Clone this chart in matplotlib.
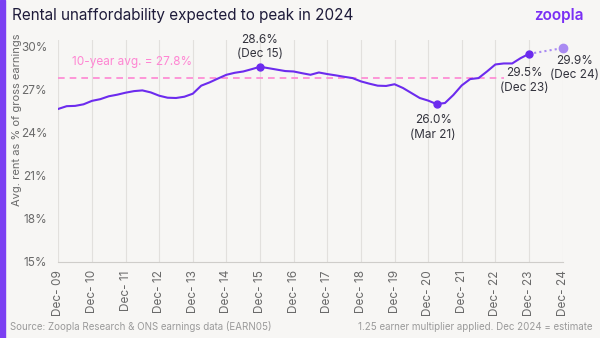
import matplotlib.pyplot as plt
import numpy as np

# Quarterly rent-to-earnings ratio, Dec 09 .. Dec 23 (%)
ratio = [25.66, 25.85, 25.87, 25.98, 26.22, 26.34, 26.54, 26.65, 26.79,
         26.90, 26.95, 26.81, 26.58, 26.44, 26.42, 26.51, 26.72,
         27.28, 27.51, 27.78, 28.04, 28.18, 28.27, 28.43, 28.60,
         28.50, 28.40, 28.30, 28.27, 28.15, 28.04, 28.20, 28.09,
         28.00, 27.90, 27.81, 27.58, 27.42, 27.28, 27.26, 27.38,
         27.12, 26.77, 26.42, 26.24, 26.00, 26.07, 26.63, 27.30,
         27.74, 27.81, 28.27, 28.76, 28.83, 28.83, 29.20, 29.50]
estimate_2024 = 29.9
avg_10y = 27.8
years = ['09', '10', '11', '12', '13', '14', '15', '16', '17', '18',
         '19', '20', '21', '22', '23', '24']
tick_labels = ['Dec- ' + y for y in years]

# highlighted points: (quarter index, label)
highlights = [(24, '28.6%\n(Dec 15)'), (45, '26.0%\n(Mar 21)'),
              (56, '29.5%\n(Dec 23)')]

purple = '#6c2bee'
light_purple = '#a98af2'
pink = '#ff86d3'
dark = '#33333d'
grey = '#6a6a6a'
bg = '#f7f6f4'

plt.rcParams['font.family'] = ['Inter', 'DejaVu Sans']

fig = plt.figure(figsize=(6, 3.38), dpi=100, facecolor=bg)
ax = fig.add_axes([0.0972, 0.2257, 0.8405, 0.6574], facecolor=bg)

x = np.arange(len(ratio)) * 0.25
x_est = 15.0

ax.plot(x, ratio, color=purple, lw=1.5, zorder=3)
ax.plot([x[-1], x_est], [ratio[-1], estimate_2024], color=light_purple,
        lw=1.5, ls=(0, (1, 1.5)), zorder=3)
ax.plot(x_est, estimate_2024, 'o', color=light_purple, ms=6, zorder=4,
        clip_on=False)

ax.plot([0, 13.25], [avg_10y, avg_10y], color=pink, lw=1.2,
        ls=(0, (4, 3)), zorder=2)
ax.text(0.4, 28.9, '10-year avg. = 27.8%', color=pink, fontsize=8.5,
        va='center', ha='left')

for i, label in highlights:
    ax.plot(x[i], ratio[i], 'o', color=purple, ms=5, zorder=4)

ax.text(x[24], ratio[24] + 0.45, highlights[0][1], ha='center', va='bottom',
        fontsize=8.5, color=dark, linespacing=1.3)
ax.text(x[45] - 0.1, ratio[45] - 0.7, highlights[1][1], ha='center',
        va='top', fontsize=8.5, color=dark, linespacing=1.3)
ax.text(x[56] - 0.15, ratio[56] - 0.95, highlights[2][1], ha='center',
        va='top', fontsize=8.5, color=dark, linespacing=1.3)
ax.text(x_est + 0.35, estimate_2024 - 0.45, '29.9%\n(Dec 24)', ha='center',
        va='top', fontsize=8.5, color=dark, linespacing=1.3)

ax.set_xlim(0, 15)
ax.set_ylim(15, 30.5)
ax.set_xticks(np.arange(16))
ax.set_xticklabels(tick_labels, rotation=90, fontsize=8.5, color=grey)
ax.set_yticks(np.arange(15, 31, 3))
ax.set_yticklabels([f'{v}%' for v in range(15, 31, 3)], fontsize=8.5,
                   color=grey)
ax.tick_params(axis='both', length=0)
ax.tick_params(axis='y', pad=8)
ax.tick_params(axis='x', pad=6)
ax.grid(axis='x', color='#e2e0dd', lw=0.8)
for side in ['top', 'right', 'left']:
    ax.spines[side].set_visible(False)
ax.spines['bottom'].set_color('#cfcdca')
ax.set_ylabel('Avg. rent as % of gross earnings', fontsize=8, color=grey)
ax.yaxis.set_label_coords(-0.072, 0.64)

fig.text(0.02, 0.955, 'Rental unaffordability expected to peak in 2024',
         fontsize=11, color='#1e1b3a', va='center', ha='left')
fig.text(0.973, 0.955, 'zoopla', fontsize=11, color='#7a2ff5',
         fontweight='semibold', va='center', ha='right')
fig.text(0.017, 0.033, 'Source: Zoopla Research & ONS earnings data (EARN05)',
         fontsize=7, color='#9a9a9a', va='center', ha='left')
fig.text(0.987, 0.033, '1.25 earner multiplier applied. Dec 2024 = estimate',
         fontsize=7, color='#9a9a9a', va='center', ha='right')

fig.patches.append(plt.Rectangle((0, 0), 0.008, 1, transform=fig.transFigure,
                                 color='#7b3ff2', zorder=10))

fig.savefig('out.png', dpi=100, facecolor=bg)
